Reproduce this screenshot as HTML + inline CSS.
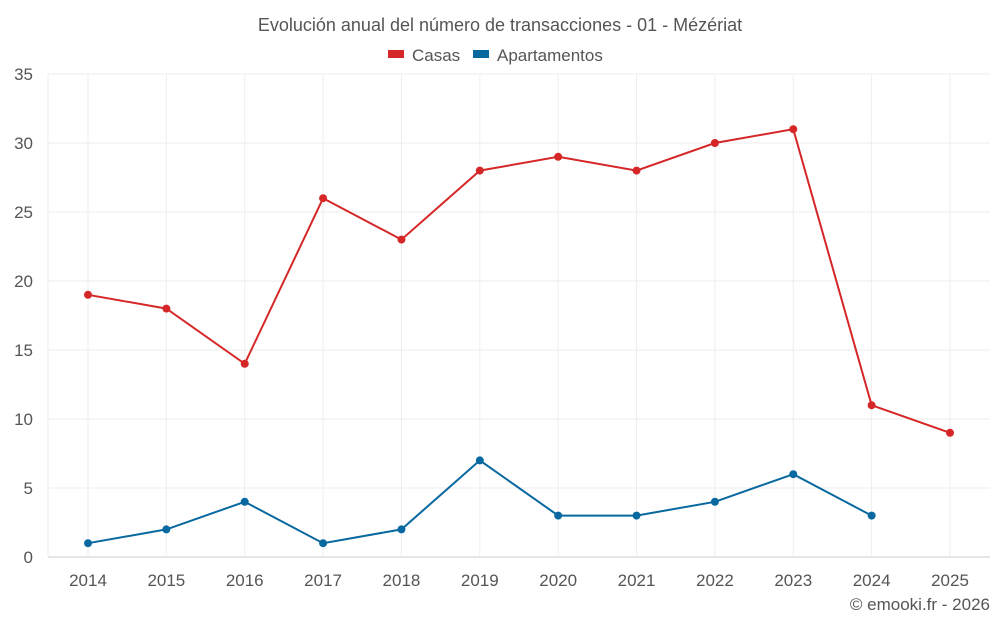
<!DOCTYPE html>
<html><head><meta charset="utf-8"><style>
body{margin:0;background:#fff;font-family:"Liberation Sans",sans-serif;}
svg text{font-family:"Liberation Sans",sans-serif;fill:#555;}
</style></head><body>
<svg id="chart" width="1000" height="625">
<text x="500" y="31" text-anchor="middle" font-size="18">Evolución anual del número de transacciones - 01 - Mézériat</text>
<g>
<rect x="388" y="50" width="16" height="8" fill="#d62728"/>
<text x="412" y="61" font-size="17">Casas</text>
<rect x="473" y="50" width="16" height="8" fill="#0868a0"/>
<text x="497" y="61" font-size="17">Apartamentos</text>
</g>
<g id="grid"></g><g id="axes"></g><g id="series"></g>
<text x="990" y="610" text-anchor="end" font-size="17">© emooki.fr - 2026</text>
</svg>
<script>
const years=[2014,2015,2016,2017,2018,2019,2020,2021,2022,2023,2024,2025];
const casas=[19,18,14,26,23,28,29,28,30,31,11,9];
const apartamentos=[1,2,4,1,2,7,3,3,4,6,3,null];
const yTicks=[0,5,10,15,20,25,30,35];
const NS="http://www.w3.org/2000/svg";
const x=i=>88+i*(950-88)/(years.length-1);
const y=v=>557-v*(557-74)/35;
function mk(t,a,p){const e=document.createElementNS(NS,t);for(const k in a)e.setAttribute(k,a[k]);p.appendChild(e);return e;}
const grid=document.getElementById('grid'),axes=document.getElementById('axes'),ser=document.getElementById('series');
yTicks.forEach(v=>{
 const l=mk('line',{x1:48,x2:990,y1:y(v),y2:y(v),stroke:v===0?'#ccc':'#eee'},grid);
 
 
 const t=mk('text',{x:33,y:y(v)+6,'text-anchor':'end','font-size':17},axes);t.textContent=v;
 
 
});
years.forEach((yr,i)=>{
 const l=mk('line',{x1:x(i),x2:x(i),y1:74,y2:557,stroke:'#eee'},grid);
 
 
 const t=mk('text',{x:x(i),y:586,'text-anchor':'middle','font-size':17},axes);t.textContent=yr;
 
 
});
const vl=mk('line',{x1:48,x2:48,y1:74,y2:557,stroke:'#eee'},grid);


function draw(vals,color,name){
 let d='';vals.forEach((v,i)=>{if(v==null)return;d+=(d?'L':'M')+x(i)+','+y(v);});
 const p=mk('path',{d:d,fill:'none',stroke:color,'stroke-width':2},ser);
 
 
 vals.forEach((v,i)=>{if(v==null)return;
  const c=mk('circle',{cx:x(i),cy:y(v),r:4,fill:color},ser);
  
  
 });
}
draw(casas,'#d62728','casas');
draw(apartamentos,'#0868a0','apartamentos');
</script>
</body></html>
